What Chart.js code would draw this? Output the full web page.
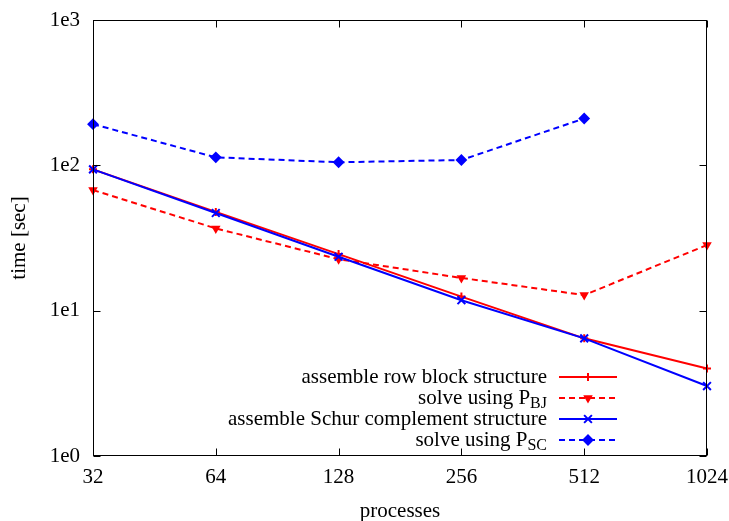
<!DOCTYPE html>
<html>
<head>
<meta charset="utf-8">
<script src="https://cdn.jsdelivr.net/npm/chart.js@4.4.1/dist/chart.umd.min.js"></script>
<style>
html,body{margin:0;padding:0;background:#fff;}
#wrap{width:729px;height:521px;position:relative;}
</style>
</head>
<body>
<div id="wrap"><canvas id="c" width="729" height="521"></canvas></div>
<script>
// ---- data ----
const processes = [32, 64, 128, 256, 512, 1024];
const assembleRowBlock = [93.8, 47.8, 24.5, 12.5, 6.45, 4.0];
const solveBJ = [67.6, 36.8, 22.6, 16.8, 12.8, 28.3];
const assembleSchur = [93.8, 47.0, 23.5, 11.8, 6.45, 3.03];
const solveSC = [192, 113.5, 105, 108.8, 210, null];
const xTicks = [32, 64, 128, 256, 512, 1024];
const yTicks = [1, 10, 100, 1000];
const yTickLabels = ['1e0', '1e1', '1e2', '1e3'];
const legendMain = ['assemble row block structure', 'solve using P', 'assemble Schur complement structure', 'solve using P'];
const legendSub = ['', 'BJ', '', 'SC'];

const FONT = 'Liberation Serif';
const FS = 21;
const toXY = vals => processes.map((p, i) => ({x: p, y: vals[i]})).filter(d => d.y !== null);

function ds(label, vals, color, dash, style, rot, radius, order) {
  return {
    label: label, data: toXY(vals), borderColor: color, backgroundColor: color,
    borderWidth: 2, borderDash: dash, pointStyle: style, rotation: rot,
    pointRadius: radius, pointBorderWidth: 2, pointBackgroundColor: color,
    pointBorderColor: color, fill: false, tension: 0, clip: false, order: order
  };
}

const frame = {
  id: 'frame',
  afterDatasetsDraw(chart) {
    const {ctx, chartArea: a, scales: {x, y}} = chart;
    ctx.save();
    ctx.strokeStyle = '#000';
    ctx.lineWidth = 1;
    const L = Math.round(a.left) + 0.5, R = Math.round(a.right) - 0.5;
    const T = Math.round(a.top) + 0.5, B = Math.round(a.bottom) - 0.5;
    ctx.strokeRect(L, T, R - L, B - T);
    const len = 7;
    ctx.beginPath();
    yTicks.forEach(v => {
      const py = Math.round(y.getPixelForValue(v)) + 0.5;
      ctx.moveTo(L, py); ctx.lineTo(L + len, py);
      ctx.moveTo(R, py); ctx.lineTo(R - len, py);
    });
    xTicks.forEach(v => {
      const px = Math.round(x.getPixelForValue(v)) + 0.5;
      ctx.moveTo(px, B); ctx.lineTo(px, B - len);
      ctx.moveTo(px, T); ctx.lineTo(px, T + len);
    });
    ctx.stroke();
    ctx.restore();
  },
  afterDraw(chart) {
    const {ctx} = chart;
    const textRight = 547, lineL = 559, lineR = 617, mid = 588;
    const rows = [377, 398, 419, 440];
    ctx.save();
    chart.data.datasets.forEach((d, i) => {
      const yy = rows[i];
      ctx.fillStyle = '#000';
      ctx.textBaseline = 'middle';
      let subW = 0;
      if (legendSub[i]) {
        ctx.font = '16px "' + FONT + '"';
        subW = ctx.measureText(legendSub[i]).width;
        ctx.textAlign = 'left';
        ctx.fillText(legendSub[i], textRight - subW, yy + 6);
      }
      ctx.font = FS + 'px "' + FONT + '"';
      ctx.textAlign = 'right';
      ctx.fillText(legendMain[i], textRight - subW, yy);
      ctx.strokeStyle = d.borderColor;
      ctx.lineWidth = d.borderWidth;
      ctx.setLineDash(d.borderDash || []);
      ctx.beginPath();
      ctx.moveTo(lineL, yy); ctx.lineTo(lineR, yy);
      ctx.stroke();
      ctx.setLineDash([]);
      ctx.fillStyle = d.borderColor;
      Chart.helpers.drawPoint(ctx, {
        pointStyle: d.pointStyle, rotation: d.rotation, radius: d.pointRadius,
        borderWidth: d.pointBorderWidth
      }, mid, yy);
    });
    ctx.restore();
  }
};

new Chart(document.getElementById('c'), {
  type: 'line',
  data: {
    datasets: [
      ds('assemble row block structure', assembleRowBlock, '#ff0000', [], 'cross', 0, 4, 4),
      ds('solve using P_BJ', solveBJ, '#ff0000', [6, 4], 'triangle', 180, 3.5, 3),
      ds('assemble Schur complement structure', assembleSchur, '#0000ff', [], 'crossRot', 0, 5.5, 2),
      ds('solve using P_SC', solveSC, '#0000ff', [6, 4], 'rectRot', 0, 4.5, 1)
    ]
  },
  options: {
    responsive: false,
    animation: false,
    devicePixelRatio: 1,
    layout: {padding: {left: 0, top: 20, right: 22, bottom: 0}},
    plugins: {legend: {display: false}, tooltip: {enabled: false}},
    scales: {
      x: {
        type: 'logarithmic', min: 32, max: 1024,
        grid: {display: false, drawTicks: false},
        border: {display: false},
        afterBuildTicks: s => { s.ticks = xTicks.map(v => ({value: v})); },
        afterFit: s => { s.height = 65; s.paddingLeft = 0; s.paddingRight = 0; },
        ticks: {autoSkip: false, maxRotation: 0, padding: 9, color: '#000',
          font: {family: FONT, size: FS}, callback: v => String(v)},
        title: {display: true, text: 'processes', color: '#000',
          font: {family: FONT, size: FS}, padding: {top: 0, bottom: -3}}
      },
      y: {
        type: 'logarithmic', min: 1, max: 1000,
        grid: {display: false, drawTicks: false},
        border: {display: false},
        afterBuildTicks: s => { s.ticks = yTicks.map(v => ({value: v})); },
        afterFit: s => { s.width = 93; s.paddingTop = 0; s.paddingBottom = 0; },
        ticks: {autoSkip: false, padding: 13, color: '#000',
          font: {family: FONT, size: FS},
          callback: v => yTickLabels[yTicks.indexOf(v)] ?? ''},
        title: {display: true, text: 'time [sec]', color: '#000',
          font: {family: FONT, size: FS}, padding: {top: 7, bottom: 0}}
      }
    }
  },
  plugins: [frame]
});
</script>
</body>
</html>
